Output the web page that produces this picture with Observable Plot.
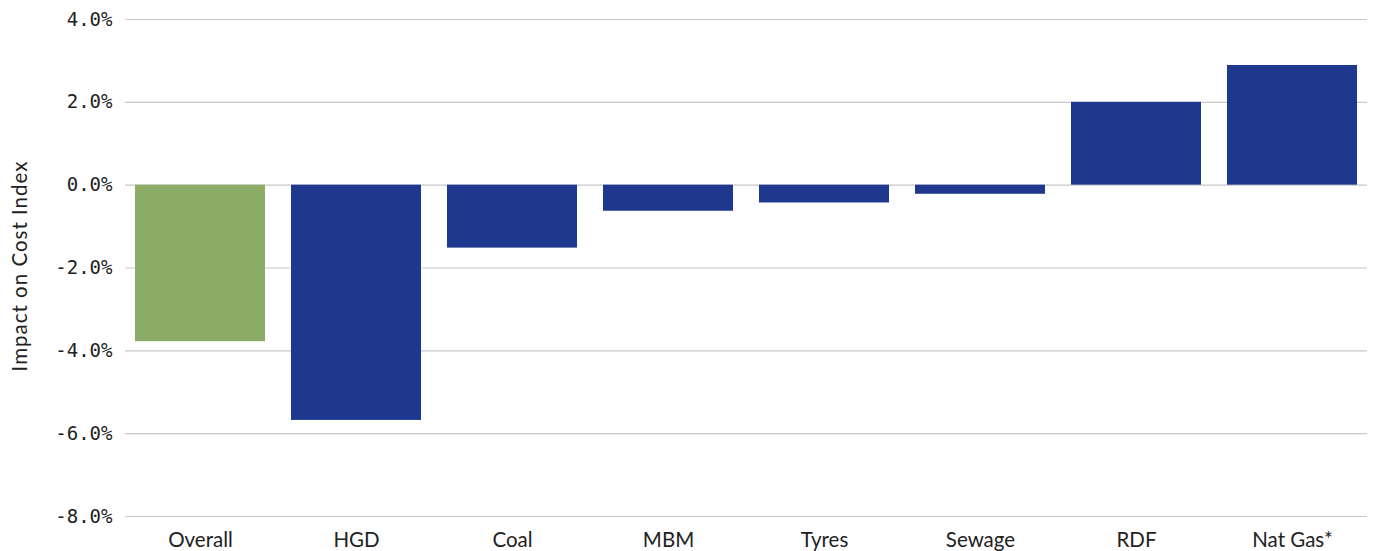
<!DOCTYPE html>
<html>
<head>
<meta charset="utf-8">
<script src="https://cdn.jsdelivr.net/npm/d3@7"></script>
<script src="https://cdn.jsdelivr.net/npm/@observablehq/plot@0.6"></script>
<style>
  html, body { margin: 0; padding: 0; background: #fff; }
  #chart svg { display: block; }
</style>
</head>
<body>
<div id="chart"></div>
<script>
const categories = ["Overall", "HGD", "Coal", "MBM", "Tyres", "Sewage", "RDF", "Nat Gas*"];
const values = [-3.78, -5.68, -1.52, -0.63, -0.43, -0.22, 2.0, 2.89];
const groups = ["overall", "fuel", "fuel", "fuel", "fuel", "fuel", "fuel", "fuel"];
const yTicks = [-8, -6, -4, -2, 0, 2, 4];
const yLabel = "Impact on Cost Index";

const data = categories.map((c, i) => ({category: c, value: values[i], group: groups[i]}));

const chart = Plot.plot({
  width: 1375,
  height: 551,
  marginTop: 19,
  marginBottom: 35,
  marginLeft: 125,
  marginRight: 8,
  style: {fontFamily: "Lato, sans-serif", fontSize: "20.5px", color: "#222", background: "#fff"},
  x: {domain: categories, paddingInner: 0.168, paddingOuter: 0.0576, label: null},
  y: {domain: [-8, 4], ticks: yTicks, label: null},
  color: {domain: ["overall", "fuel"], range: ["#8AAC66", "#1E3890"]},
  marks: [
    Plot.gridY(yTicks, {stroke: "#c8c8c8", strokeOpacity: 1, strokeWidth: 1.2}),
    Plot.barY(data, {x: "category", y: "value", fill: "group"}),
    Plot.axisY(yTicks, {
      tickSize: 0, tickPadding: 13, label: null,
      tickFormat: d => d3.format(".1f")(d).replace("−", "-") + "%",
      fontFamily: "DejaVu Sans Mono, monospace", fontSize: 19
    }),
    Plot.axisX({tickSize: 0, tickPadding: 16, label: null, fontSize: 20.5}),
    Plot.text([yLabel], {
      frameAnchor: "left", dx: -105.5, dy: -2, rotate: -90, text: d => d,
      textAnchor: "middle", fontSize: 20.5, fill: "#222", className: "ylab"
    })
  ]
});
d3.select(chart).selectAll(".ylab text").style("letter-spacing", "1px");
document.getElementById("chart").appendChild(chart);
</script>
</body>
</html>
